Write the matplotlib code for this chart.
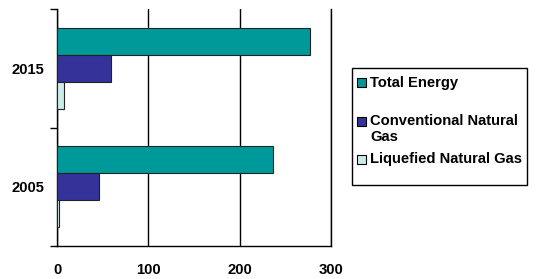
import matplotlib
matplotlib.use("Agg")
import matplotlib.pyplot as plt
import numpy as np
from matplotlib.patches import Rectangle

# Chart data
years = ["2005", "2015"]
series_names = ["Total Energy", "Conventional Natural\nGas", "Liquefied Natural Gas"]
total_energy = [237, 277]
conventional_gas = [46, 59]
liquefied_gas = [2.5, 8]
x_ticks = [0, 100, 200, 300]

colors = ["#009999", "#333399", "#CCECEC"]

plt.rcParams['font.family'] = ['Liberation Sans', 'DejaVu Sans']
plt.rcParams['font.weight'] = 'bold'
fs = 10.6

fig = plt.figure(figsize=(5.36, 2.79), dpi=100)
ax = fig.add_axes([57 / 536, 1 - 246 / 279, 274 / 536, 237 / 279])

# Horizontal grouped bars, first series on top within each group
ypos = np.arange(len(years))
bar_h = 0.228
values = [total_energy, conventional_gas, liquefied_gas]
offsets = [bar_h, 0, -bar_h]
for vals, off, col in zip(values, offsets, colors):
    ax.barh(ypos + off, vals, height=bar_h, color=col, edgecolor='#222222',
            linewidth=0.8, zorder=3)

ax.set_xlim(0, 300)
ax.set_ylim(-0.5, 1.5)
ax.set_xticks(x_ticks)
ax.set_xticklabels([str(t) for t in x_ticks], fontsize=fs, fontweight='bold')
ax.set_yticks(ypos)
ax.set_yticklabels(years, fontsize=fs, fontweight='bold')
ax.tick_params(axis='y', length=0, pad=9)
ax.tick_params(axis='x', length=0, pad=12)
ax.set_yticks([-0.5, 0.5, 1.5], minor=True)
ax.tick_params(axis='y', which='minor', length=5, width=1, color='black')
ax.set_xticks([0], minor=True)
ax.tick_params(axis='x', which='minor', length=4, width=1, color='black')

ax.grid(True, axis='x', color='black', linewidth=1, zorder=1)
ax.spines['top'].set_visible(False)
ax.spines['right'].set_color('black')
ax.spines['right'].set_linewidth(1)
ax.spines['left'].set_linewidth(1)
ax.spines['bottom'].set_linewidth(1)

# Legend drawn in figure pixel coordinates (Excel style layout)
W, H = 536, 279
fig.patches.append(Rectangle((352 / W, 1 - 185 / H), 175 / W, 117 / H,
                             transform=fig.transFigure, facecolor='white',
                             edgecolor='black', linewidth=1))
entry_y = [82, 121, 159]
for name, col, yy in zip(series_names, colors, entry_y):
    fig.patches.append(Rectangle((357 / W, 1 - (yy + 4.5) / H), 9 / W, 9 / H,
                                 transform=fig.transFigure, facecolor=col,
                                 edgecolor='black', linewidth=0.8))
    fig.text(370 / W, 1 - (yy - 6.5) / H, name, fontsize=fs, fontweight='bold',
             va='top', ha='left', linespacing=1.1)

fig.savefig("out.png", dpi=100)
